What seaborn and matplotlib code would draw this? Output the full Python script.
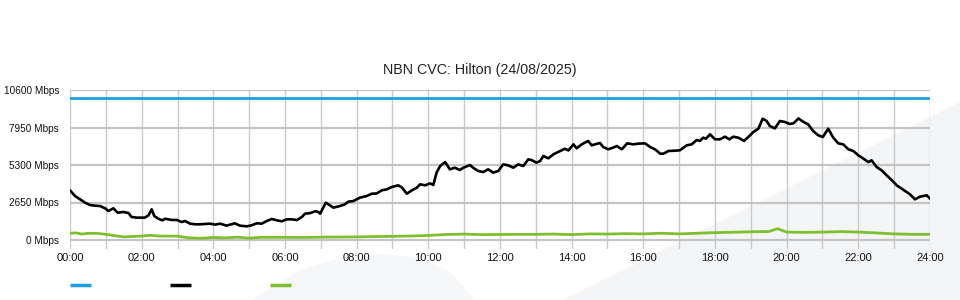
import matplotlib
matplotlib.use("Agg")
import matplotlib.pyplot as plt
from matplotlib.lines import Line2D
from matplotlib.patches import Polygon
import seaborn as sns
import pandas as pd

# ---- data ----
black_hours = [0.00, 0.14, 0.28, 0.42, 0.56, 0.70, 0.84, 0.98, 1.07, 1.21, 1.33, 1.49, 1.63, 1.72,
               1.86, 2.09, 2.19, 2.28, 2.35, 2.46, 2.58, 2.65, 2.84, 2.98, 3.12, 3.21, 3.35, 3.49,
               3.63, 3.91, 4.05, 4.19, 4.37, 4.60, 4.74, 4.93, 5.07, 5.21, 5.35, 5.49, 5.63, 5.77,
               5.91, 6.05, 6.19, 6.33, 6.47, 6.56, 6.70, 6.84, 6.93, 6.98, 7.14, 7.35, 7.53, 7.67,
               7.77, 7.91, 8.09, 8.28, 8.42, 8.56, 8.70, 8.84, 8.98, 9.16, 9.26, 9.40, 9.54, 9.68,
               9.77, 9.91, 10.05, 10.14, 10.23, 10.33, 10.47, 10.60, 10.74, 10.88, 10.98, 11.16,
               11.25, 11.39, 11.53, 11.67, 11.81, 11.95, 12.09, 12.23, 12.37, 12.51, 12.65, 12.79,
               12.88, 13.02, 13.12, 13.21, 13.35, 13.49, 13.63, 13.81, 13.91, 14.05, 14.14, 14.28,
               14.46, 14.56, 14.65, 14.79, 14.88, 15.02, 15.16, 15.26, 15.40, 15.55, 15.72, 15.86,
               16.05, 16.19, 16.33, 16.47, 16.56, 16.70, 16.88, 17.02, 17.21, 17.35, 17.49, 17.58,
               17.67, 17.75, 17.86, 18.00, 18.14, 18.28, 18.40, 18.51, 18.65, 18.81, 18.93, 19.07,
               19.21, 19.33, 19.44, 19.53, 19.67, 19.81, 19.95, 20.09, 20.19, 20.33, 20.47, 20.60,
               20.74, 20.88, 21.01, 21.16, 21.30, 21.44, 21.58, 21.72, 21.86, 22.00, 22.14, 22.28,
               22.37, 22.51, 22.65, 22.79, 22.93, 23.07, 23.21, 23.35, 23.44, 23.58, 23.72, 23.91,
               24.00]
black_mbps = [3510, 3110, 2875, 2640, 2470, 2425, 2400, 2240, 2050, 2240, 1930, 1980, 1910, 1625,
              1580, 1580, 1745, 2170, 1700, 1505, 1390, 1505, 1415, 1415, 1270, 1340, 1155, 1110,
              1110, 1155, 1085, 1155, 1015, 1180, 1015, 965, 1040, 1180, 1155, 1340, 1485, 1390,
              1320, 1460, 1460, 1410, 1625, 1860, 1900, 2030, 1980, 1860, 2640, 2285, 2400, 2520,
              2710, 2755, 2990, 3110, 3270, 3290, 3510, 3580, 3745, 3865, 3720, 3270, 3510, 3700,
              3935, 3865, 4000, 3890, 4760, 5230, 5510, 4995, 5110, 4945, 5110, 5300,
              5110, 4875, 4805, 4995, 4760, 4875, 5345, 5275, 5110, 5345, 5230, 5700,
              5650, 5465, 5580, 5935, 5770, 6055, 6230, 6450, 6330, 6760, 6480, 6760,
              7000, 6690, 6760, 6855, 6570, 6410, 6530, 6640, 6410, 6830, 6760, 6810,
              6830, 6570, 6400, 6100, 6100, 6290, 6310, 6340, 6690, 6760, 7065, 7000,
              7230, 7160, 7470, 7115, 7115, 7300, 7115, 7300, 7230, 7000, 7280, 7630,
              7865, 8570, 8410, 8055, 7890, 8410, 8340, 8200, 8245, 8590, 8340, 8175,
              7700, 7400, 7280, 7865, 7230, 6830, 6760, 6410, 6290, 5985, 5745, 5510,
              5630, 5160, 4925, 4570, 4240, 3865, 3625, 3390, 3230, 2875, 3060, 3160,
              2920]

green_hours = [0.0, 0.17, 0.33, 0.5, 0.75, 1.0, 1.25, 1.5, 2.0, 2.25, 2.5, 3.0, 3.33, 3.67, 4.0,
               4.33, 4.67, 5.0, 5.33, 6.0, 6.5, 7.0, 7.5, 8.0, 8.5, 9.0, 9.5, 10.0, 10.5, 11.0,
               11.5, 12.0, 12.5, 13.0, 13.5, 14.0, 14.5, 15.0, 15.5, 16.0, 16.5, 17.0, 17.5, 18.0,
               18.5, 19.0, 19.5, 19.75, 20.0, 20.5, 21.0, 21.5, 22.0, 22.5, 23.0, 23.5, 24.0]
green_mbps = [480, 500, 420, 470, 470, 400, 300, 220, 280, 330, 280, 270, 150, 120, 180,
              150, 200, 130, 190, 190, 180, 200, 210, 220, 240, 260, 280, 320, 390, 420,
              380, 390, 400, 400, 420, 380, 430, 420, 450, 430, 480, 430, 480, 520,
              550, 580, 600, 800, 560, 540, 560, 590, 560, 500, 430, 400, 400]

blue_hours = [0, 24]
blue_mbps = [10000, 10000]

ytick_values = [0, 2650, 5300, 7950, 10600]
ytick_labels = [f"{v} Mbps" for v in ytick_values]
xtick_values = list(range(0, 25, 2))
xtick_labels = [f"{h:02d}:00" for h in xtick_values]
title = "NBN CVC: Hilton (24/08/2025)"

# ---- style ----
sns.set_style("white")
plt.rcParams["font.family"] = ["Liberation Sans", "DejaVu Sans"]

fig = plt.figure(figsize=(9.6, 3.0), dpi=100)
fig.patch.set_facecolor("white")

W, H = 960.0, 300.0
# faint watermark shapes in the background
fig.add_artist(Polygon([(563 / W, 0), (1.0, 1 - 102 / H), (1.0, 0)], closed=True,
                       transform=fig.transFigure, facecolor="#f4f5f7", edgecolor="none", zorder=0))
fig.add_artist(Polygon([(252 / W, 0), (300 / W, 1 - 270 / H), (340 / W, 1 - 258 / H),
                        (380 / W, 1 - 254 / H), (420 / W, 1 - 258 / H), (450 / W, 1 - 272 / H),
                        (475 / W, 0)], closed=True,
                       transform=fig.transFigure, facecolor="#f6f7f9", edgecolor="none", zorder=0))

ax = fig.add_axes([70 / W, 1 - 249 / H, 860 / W, (249 - 90) / H])
ax.patch.set_alpha(0)
ax.set_zorder(1)

blue_df = pd.DataFrame({"hour": blue_hours, "mbps": blue_mbps})
black_df = pd.DataFrame({"hour": black_hours, "mbps": black_mbps})
green_df = pd.DataFrame({"hour": green_hours, "mbps": green_mbps})

blue_c, black_c, green_c = "#1e9fe0", "#000000", "#7dbf2e"
sns.lineplot(data=blue_df, x="hour", y="mbps", ax=ax, color=blue_c, lw=2.0, zorder=3)
sns.lineplot(data=green_df, x="hour", y="mbps", ax=ax, color=green_c, lw=2.0, zorder=3)
sns.lineplot(data=black_df, x="hour", y="mbps", ax=ax, color=black_c, lw=1.9, zorder=4)

ax.set_xlim(0, 24)
ax.set_ylim(-636, 10600)
ax.set_xticks(xtick_values)
ax.set_xticklabels(xtick_labels)
ax.set_xticks(range(0, 25), minor=True)
ax.set_yticks(ytick_values)
ax.set_yticklabels(ytick_labels)
ax.set_xlabel("")
ax.set_ylabel("")

ax.tick_params(axis="x", which="both", length=0, pad=3, labelsize=8, colors="#111111")
ax.tick_params(axis="y", length=0, pad=8, labelsize=7.2, colors="#111111")
for s in ax.spines.values():
    s.set_visible(False)

ax.set_axisbelow(True)
ax.yaxis.grid(True, color="#c4c4c4", lw=1.6)
ax.xaxis.grid(True, which="both", color="#cacaca", lw=1.0)

fig.text(0.5, 1 - 70 / H, title, ha="center", va="center", fontsize=10.3, color="#222222")

# legend keys (no text)
for x0, c in [(70, blue_c), (170, black_c), (270, green_c)]:
    fig.add_artist(Line2D([x0 / W, (x0 + 21) / W], [1 - 285 / H, 1 - 285 / H],
                          transform=fig.transFigure, color=c, lw=2.5, solid_capstyle="butt"))

fig.savefig("out.png", dpi=100)
